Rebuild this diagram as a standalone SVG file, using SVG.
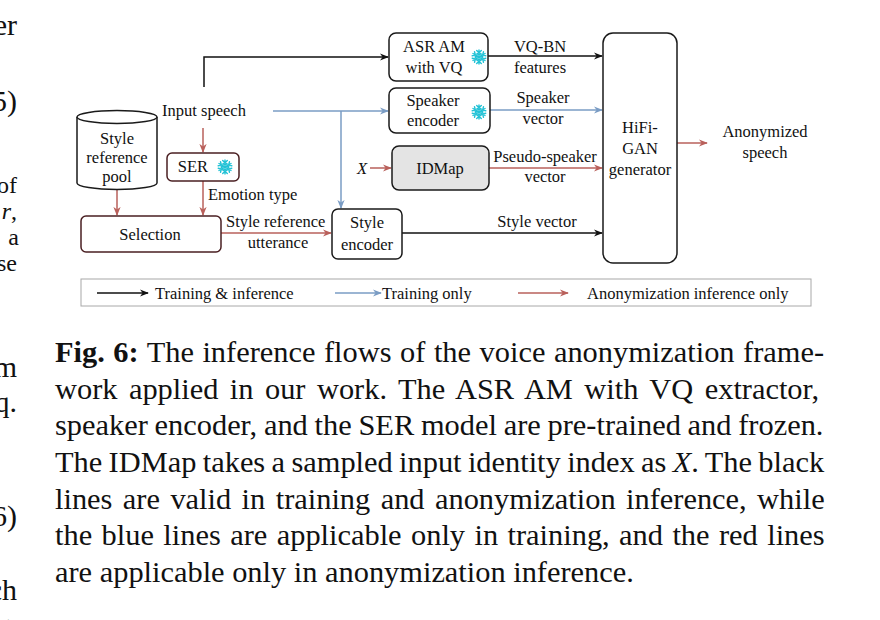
<svg xmlns="http://www.w3.org/2000/svg" xmlns:xlink="http://www.w3.org/1999/xlink" width="880" height="620" viewBox="0 0 880 620">
<style>
text{font-family:"Liberation Serif","Times New Roman",serif;fill:#111}
.t{font-size:16.5px}
.c{text-anchor:middle}
.cap{font-size:30.4px}
.m{font-size:30px;text-anchor:end}
.ms{font-size:24px;text-anchor:end}
.box{fill:#fff;stroke:#1a1a1a;stroke-width:1.5}
.rbox{fill:#fff;stroke:#4a1f22;stroke-width:1.5}
.k{fill:none;stroke:#111;stroke-width:1.5}
.b{fill:none;stroke:#7a9cc4;stroke-width:1.5}
.r{fill:none;stroke:#b9605b;stroke-width:1.5}
</style>
<defs>
<marker id="ak" viewBox="0 0 10 10" refX="9" refY="5" markerWidth="9" markerHeight="9" markerUnits="userSpaceOnUse" orient="auto"><path d="M0,1 L10,5 L0,9 L3,5 z" fill="#111"/></marker>
<marker id="ab" viewBox="0 0 10 10" refX="9" refY="5" markerWidth="9" markerHeight="9" markerUnits="userSpaceOnUse" orient="auto"><path d="M0,1 L10,5 L0,9 L3,5 z" fill="#7a9cc4"/></marker>
<marker id="ar" viewBox="0 0 10 10" refX="9" refY="5" markerWidth="9" markerHeight="9" markerUnits="userSpaceOnUse" orient="auto"><path d="M0,1 L10,5 L0,9 L3,5 z" fill="#b9605b"/></marker>
<g id="arm"><path d="M0,0V-7 M-2.3,-6.5L0,-4.2L2.3,-6.5 M-1.6,-3.4L0,-2.2L1.6,-3.4"/></g>
<g id="snow" stroke="#22c2d6" stroke-width="1.4" stroke-linecap="round" fill="none">
<use xlink:href="#arm"/>
<use xlink:href="#arm" transform="rotate(60)"/>
<use xlink:href="#arm" transform="rotate(120)"/>
<use xlink:href="#arm" transform="rotate(180)"/>
<use xlink:href="#arm" transform="rotate(240)"/>
<use xlink:href="#arm" transform="rotate(300)"/>
</g>
</defs>
<rect width="880" height="620" fill="#fff"/>

<!-- margin fragments from adjacent column -->
<g id="margin">
<text class="m" x="17" y="35">er</text>
<text class="m" x="17" y="111">5)</text>
<text class="ms" x="17" y="193">of</text>
<text class="ms" x="17" y="219"><tspan font-style="italic">r</tspan>,</text>
<text class="ms" x="19" y="245">a</text>
<text class="ms" x="17" y="271">se</text>
<text class="m" x="17" y="377">m</text>
<text class="m" x="17" y="412">q.</text>
<text class="m" x="17" y="526">6)</text>
<text class="m" x="17" y="600">ch</text>
<text class="m" x="17" y="640">)</text>
</g>

<g id="connectors">
<path class="k" d="M204,87 V57 H388" marker-end="url(#ak)"/>
<path class="b" d="M273,111 H388" marker-end="url(#ab)"/>
<path class="b" d="M341,111 V208" marker-end="url(#ab)"/>
<path class="r" d="M203,128 V152" marker-end="url(#ar)"/>
<path class="r" d="M203,181 V215" marker-end="url(#ar)"/>
<path class="r" d="M117,190 V215" marker-end="url(#ar)"/>
<path class="r" d="M221,233 H331" marker-end="url(#ar)"/>
<path class="k" d="M402,233 H602" marker-end="url(#ak)"/>
<path class="k" d="M488,56 H602" marker-end="url(#ak)"/>
<path class="b" d="M490,110 H602" marker-end="url(#ab)"/>
<path class="r" d="M370,168 H391" marker-end="url(#ar)"/>
<path class="r" d="M489,168 H602" marker-end="url(#ar)"/>
<path class="r" d="M677,143 H707" marker-end="url(#ar)"/>
</g>

<g id="edge-labels">
<text class="t c" x="204" y="116">Input speech</text>
<text class="t" x="208" y="200">Emotion type</text>
<text class="t" x="226" y="227">Style reference</text>
<text class="t c" x="278" y="248">utterance</text>
<text class="t c" x="540" y="52">VQ-BN</text>
<text class="t c" x="540" y="73">features</text>
<text class="t c" x="543" y="103">Speaker</text>
<text class="t c" x="543" y="124">vector</text>
<text class="t c" x="545" y="162">Pseudo-speaker</text>
<text class="t c" x="545" y="182">vector</text>
<text class="t c" x="537" y="227">Style vector</text>
<text class="t c" x="362" y="174" font-style="italic">X</text>
<text class="t c" x="765" y="137">Anonymized</text>
<text class="t c" x="765" y="158">speech</text>
</g>

<g id="pool">
<path class="box" d="M77,117 V183 A40,6.5 0 0 0 157,183 V117"/>
<ellipse class="box" cx="117" cy="117" rx="40" ry="6.5"/>
<text class="t c" x="117" y="144">Style</text>
<text class="t c" x="117" y="163">reference</text>
<text class="t c" x="117" y="182">pool</text>
</g>

<g id="ser">
<rect class="rbox" x="167" y="153" width="72" height="28" rx="5"/>
<text class="t c" x="193" y="172">SER</text>
<use xlink:href="#snow" transform="translate(225,167)"/>
</g>

<g id="selection">
<rect class="rbox" x="81" y="216" width="140" height="36" rx="5"/>
<text class="t c" x="150" y="240">Selection</text>
</g>

<g id="asr">
<rect class="box" x="389" y="33" width="99" height="48" rx="7"/>
<text class="t c" x="434" y="52">ASR AM</text>
<text class="t c" x="434" y="73">with VQ</text>
<use xlink:href="#snow" transform="translate(479,57)"/>
</g>

<g id="speaker-encoder">
<rect class="box" x="389" y="88" width="101" height="45" rx="7"/>
<text class="t c" x="433" y="106">Speaker</text>
<text class="t c" x="433" y="126">encoder</text>
<use xlink:href="#snow" transform="translate(479,112)"/>
</g>

<g id="idmap">
<rect x="392" y="146" width="97" height="44" rx="7" fill="#e4e4e4" stroke="#1a1a1a" stroke-width="1.5"/>
<text class="t c" x="440" y="174">IDMap</text>
</g>

<g id="style-encoder">
<rect class="box" x="332" y="209" width="70" height="50" rx="6"/>
<text class="t c" x="367" y="228">Style</text>
<text class="t c" x="367" y="250">encoder</text>
</g>

<g id="hifigan">
<rect class="box" x="603" y="33" width="74" height="230" rx="10"/>
<text class="t c" x="640" y="133">HiFi-</text>
<text class="t c" x="640" y="154">GAN</text>
<text class="t c" x="640" y="175">generator</text>
</g>

<g id="legend">
<rect x="81" y="279" width="730" height="27" fill="#fff" stroke="#a8a8a8" stroke-width="1"/>
<path d="M97,293 H148" fill="none" stroke="#111" stroke-width="1.5" marker-end="url(#ak)"/>
<text class="t" x="155" y="298.5">Training &amp; inference</text>
<path d="M335,293 H381" fill="none" stroke="#7a9cc4" stroke-width="1.5" marker-end="url(#ab)"/>
<text class="t" x="382" y="298.5">Training only</text>
<path d="M518,293 H568" fill="none" stroke="#b9605b" stroke-width="1.5" marker-end="url(#ar)"/>
<text class="t" x="587" y="298.5">Anonymization inference only</text>
</g>

<g id="caption">
<text class="cap" x="55" y="362" word-spacing="0.94"><tspan font-weight="bold">Fig. 6:</tspan> The inference flows of the voice anonymization frame-</text>
<text class="cap" x="55" y="398.7" word-spacing="3.88">work applied in our work. The ASR AM with VQ extractor,</text>
<text class="cap" x="55" y="435.3" word-spacing="-0.83">speaker encoder, and the SER model are pre-trained and frozen.</text>
<text class="cap" x="55" y="472" word-spacing="-1.23">The IDMap takes a sampled input identity index as <tspan font-style="italic">X</tspan>. The black</text>
<text class="cap" x="55" y="508.7" word-spacing="2.85">lines are valid in training and anonymization inference, while</text>
<text class="cap" x="55" y="545.3" word-spacing="1.84">the blue lines are applicable only in training, and the red lines</text>
<text class="cap" x="55" y="582">are applicable only in anonymization inference.</text>
</g>
</svg>
